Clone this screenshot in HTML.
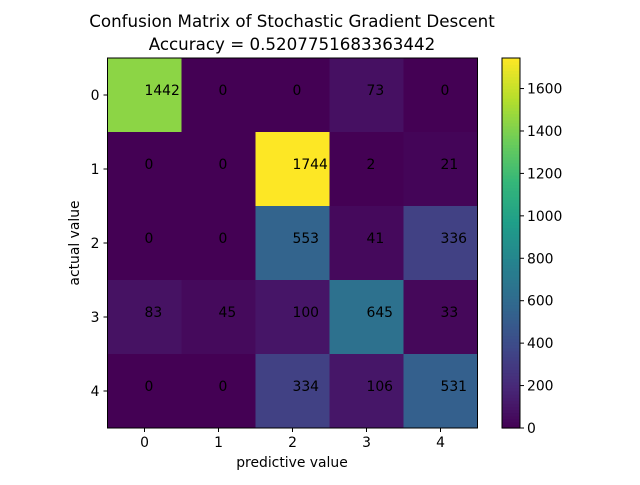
<!DOCTYPE html>
<html><head><meta charset="utf-8"><style>body{margin:0;background:#fff}svg text{font-family:"DejaVu Sans","Liberation Sans",sans-serif}</style></head>
<body>
<svg id="c" width="640" height="480" xmlns="http://www.w3.org/2000/svg">
<rect width="640" height="480" fill="#fff"/>
<text x="292" y="27" font-size="16.7" text-anchor="middle">Confusion Matrix of Stochastic Gradient Descent</text>
<text x="292" y="50" font-size="16.7" text-anchor="middle">Accuracy = 0.5207751683363442</text>
<g id="cells"></g>
<g id="axes"></g>
<text x="292" y="467" font-size="13.9" text-anchor="middle">predictive value</text>
<text transform="translate(79,243) rotate(-90)" font-size="13.9" text-anchor="middle">actual value</text>
</svg>
<script>
const categories=["0","1","2","3","4"];
const row0=[1442,0,0,73,0];
const row1=[0,0,1744,2,21];
const row2=[0,0,553,41,336];
const row3=[83,45,100,645,33];
const row4=[0,0,334,106,531];
const cbTicks=[0,200,400,600,800,1000,1200,1400,1600];
const matrix=[row0,row1,row2,row3,row4];
const NS="http://www.w3.org/2000/svg";
const L=107.5,T=58,W=370,H=370,n=categories.length,cw=W/n,ch=H/n,FS=13.9;
const vmin=Math.min(...matrix.flat()),vmax=Math.max(...matrix.flat());
const stops=[[68,1,84],[72,40,120],[62,74,137],[49,104,142],[38,130,142],[31,158,137],[53,183,121],[109,205,89],[180,222,44],[253,231,37]];
function vir(t){t=Math.max(0,Math.min(1,t));const p=t*(stops.length-1),i=Math.min(Math.floor(p),stops.length-2),f=p-i;
const c=stops[i].map((v,k)=>Math.round(v+(stops[i+1][k]-v)*f));return `rgb(${c})`;}
function xs(j){return L+j*cw;} function ys(i){return T+i*ch;}
function mk(tag,a,p){const e=document.createElementNS(NS,tag);for(const k in a)e.setAttribute(k,a[k]);p.appendChild(e);return e;}
const cg=document.getElementById('cells'),ag=document.getElementById('axes');
matrix.forEach((r,i)=>r.forEach((v,j)=>{
const rc=mk('rect',{x:xs(j),y:ys(i),width:cw+0.5,height:ch+0.5,fill:vir((v-vmin)/(vmax-vmin))},cg);


const t=mk('text',{x:xs(j)+cw/2,y:ys(i)+ch/2,'font-size':FS},cg);t.textContent=v;


}));
mk('rect',{x:L,y:T,width:W,height:H,fill:'none',stroke:'#000','stroke-width':1},ag);
categories.forEach((c,k)=>{
const cx=xs(k)+cw/2,cy=ys(k)+ch/2;
mk('line',{x1:cx,x2:cx,y1:T+H,y2:T+H+4,stroke:'#000'},ag);
const tx=mk('text',{x:cx,y:T+H+19,'font-size':FS,'text-anchor':'middle'},ag);tx.textContent=c;


mk('line',{x1:L-4,x2:L,y1:cy,y2:cy,stroke:'#000'},ag);
const ty=mk('text',{x:L-8,y:cy+5,'font-size':FS,'text-anchor':'end'},ag);ty.textContent=c;


});
const CX=502,CW=18,N=120;
for(let s=0;s<N;s++){const r=mk('rect',{x:CX,y:T+H-(s+1)*H/N,width:CW,height:H/N+0.6,fill:vir((s+0.5)/N)},ag);

}
mk('rect',{x:CX,y:T,width:CW,height:H,fill:'none',stroke:'#000'},ag);
cbTicks.forEach(v=>{const y=T+H-(v-vmin)/(vmax-vmin)*H;
mk('line',{x1:CX+CW,x2:CX+CW+4,y1:y,y2:y,stroke:'#000'},ag);
const t=mk('text',{x:CX+CW+7,y:y+5,'font-size':FS},ag);t.textContent=v;

});
</script>
</body></html>
